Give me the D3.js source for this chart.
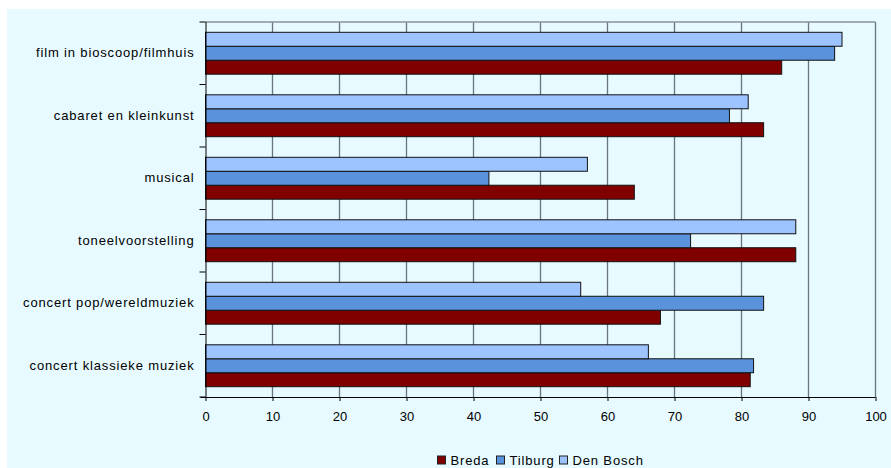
<!DOCTYPE html>
<html><head><meta charset="utf-8">
<script src="https://cdn.jsdelivr.net/npm/d3@7/dist/d3.min.js"></script>
<style>body{margin:0;background:#fff;}svg{display:block;font-family:Arial,"Liberation Sans",sans-serif;}</style>
</head><body>
<svg id="c" width="891" height="468"></svg>
<script>
const categories = ["film in bioscoop/filmhuis","cabaret en kleinkunst","musical","toneelvoorstelling","concert pop/wereldmuziek","concert klassieke muziek"];
const seriesNames = ["Breda","Tilburg","Den Bosch"];
const breda    = [86, 83.3, 64, 88.1, 67.9, 81.3];
const tilburg  = [93.9, 78.2, 42.3, 72.4, 83.3, 81.8];
const denBosch = [95, 81, 57, 88.1, 56, 66.1];
const xTicks = [0,10,20,30,40,50,60,70,80,90,100];
const colors = ["#800000","#5a93dc","#9dc4ff"];

const svg = d3.select("#c");
svg.append("rect").attr("x",7).attr("y",9).attr("width",884).attr("height",459).attr("fill","#e6faff");

const m = {l:205.5, r:875.5, t:22, b:397};
const x = d3.scaleLinear().domain([0,100]).range([m.l,m.r]);
const y = d3.scaleBand().domain(categories).range([m.t,m.b]);
const inner = d3.scaleBand().domain(["Den Bosch","Tilburg","Breda"]).range([10.3, y.bandwidth()-10.3]);

const data = [breda,tilburg,denBosch];
const g = svg.append("g");
// gridlines
g.selectAll("line.grid").data(xTicks.slice(1)).join("line")
  .attr("x1",d=>x(d)).attr("x2",d=>x(d)).attr("y1",m.t).attr("y2",m.b)
  .attr("stroke","#6b757d").attr("stroke-width",1.3);
g.append("line").attr("x1",m.l).attr("x2",m.r).attr("y1",m.t).attr("y2",m.t).attr("stroke","#8a9299").attr("stroke-width",1.3);

// bars
categories.forEach((c,i)=>{
  seriesNames.forEach((s,j)=>{
    g.append("rect")
      .attr("x",x(0)).attr("y",y(c)+inner(s))
      .attr("width",x(data[j][i])-x(0)).attr("height",inner.bandwidth())
      .attr("fill",colors[j]).attr("stroke","#111").attr("stroke-width",1);
  });
});

// x axis
const xa = svg.append("g").attr("transform",`translate(0,${m.b})`)
  .call(d3.axisBottom(x).tickValues(xTicks).tickSize(4).tickPadding(11));
xa.select(".domain").attr("d",`M${m.l-5},0.5H${m.r}`).attr("stroke","#000");
xa.selectAll("text").attr("font-size","13px").attr("fill","#000").attr("font-family","Arial, 'Liberation Sans', sans-serif");
xa.selectAll(".tick line").attr("stroke","#000");

// y axis
const ya = svg.append("g").attr("transform",`translate(${m.l},0)`)
  .call(d3.axisLeft(y).tickSize(0).tickPadding(11));
ya.select(".domain").attr("d",`M0.5,${m.t}V${m.b}`).attr("stroke","#000");
ya.selectAll("text").attr("font-size","13px").attr("letter-spacing","0.85px").attr("fill","#000").attr("font-family","Arial, 'Liberation Sans', sans-serif");
// category boundary ticks
ya.selectAll("line.bt").data(d3.range(categories.length+1)).join("line")
  .attr("x1",-6).attr("x2",0)
  .attr("y1",i=>m.t + i*y.step()).attr("y2",i=>m.t + i*y.step()).attr("stroke","#000");

// legend
const leg = svg.append("g");
const legX = [437.5, 496.5, 559.5];
seriesNames.forEach((s,j)=>{
  leg.append("rect").attr("x",legX[j]).attr("y",456).attr("width",8).attr("height",8)
    .attr("fill",colors[j]).attr("stroke","#222").attr("stroke-width",1);
  leg.append("text").attr("x",legX[j]+13).attr("y",464.5).text(s)
    .attr("font-size","13px").attr("letter-spacing","0.85px").attr("fill","#000");
});
</script>
</body></html>
